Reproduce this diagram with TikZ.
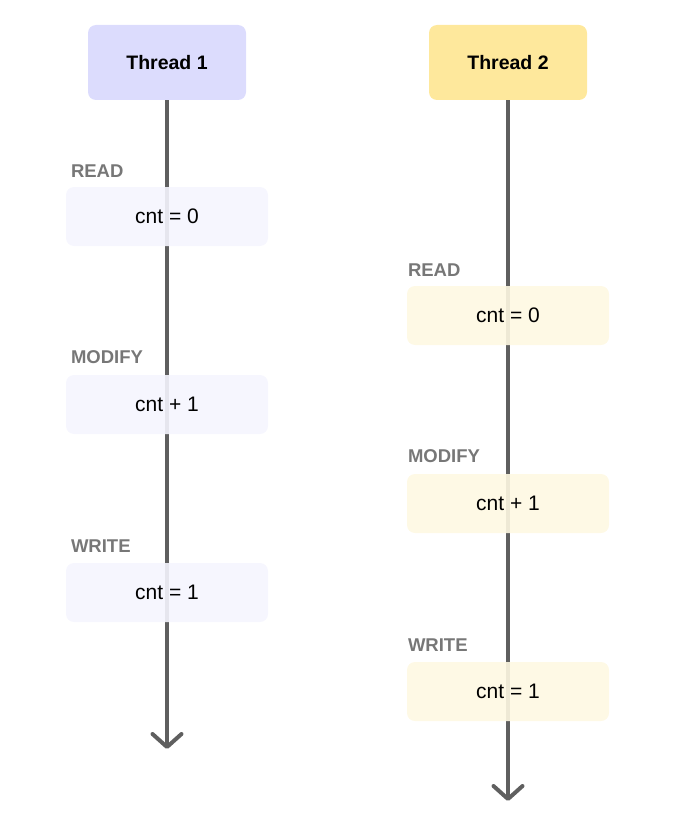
\documentclass[tikz,border=0pt]{standalone}
\usepackage{fontspec}
\setmainfont{Liberation Sans}
\usetikzlibrary{arrows.meta,positioning}
\definecolor{lineGray}{HTML}{5F5F5F}
\definecolor{headA}{HTML}{DCDCFD}
\definecolor{headB}{HTML}{FEE89C}
\definecolor{boxA}{HTML}{F5F5FE}
\definecolor{boxB}{HTML}{FEF8E2}
\definecolor{labelGray}{HTML}{777777}
\tikzset{
  header/.style={rounded corners=8pt, minimum width=158pt, minimum height=75pt, inner sep=0pt,
    font=\fontsize{19.5}{22}\selectfont\bfseries},
  stepbox/.style={rounded corners=8pt, minimum width=202pt, minimum height=59pt, inner sep=0pt,
    fill opacity=0.9, text opacity=1, font=\fontsize{21}{24}\selectfont},
  steplabel/.style={anchor=base west, text=labelGray, inner sep=0pt,
    font=\fontsize{18.5}{22}\selectfont\bfseries},
  timeline/.style={line width=4pt, draw=lineGray,
    -{Straight Barb[length=13pt,width=29pt,round]}}
}

\begin{document}
\begin{tikzpicture}[x=1pt,y=-1pt]
  \useasboundingbox (0,0) rectangle (676,824);
  %%%%% threads %%%%%
  \node[header, fill=headA] (t1) at (167,62.5) {Thread 1};
  \node[header, fill=headB] (t2) at (508,62.5) {Thread 2};
  \coordinate (e1) at (167,749);
  \coordinate (e2) at (508,801);
  \draw[timeline] (t1.south) -- (e1);
  \draw[timeline] (t2.south) -- (e2);

  %%%%% thread 1 %%%%%
  \node[stepbox, fill=boxA] (r1) at (167,216.5) {cnt = 0};
  \node[stepbox, fill=boxA] (m1) at (167,404.5) {cnt + 1};
  \node[stepbox, fill=boxA] (w1) at (167,592.5) {cnt = 1};
  \node[steplabel] (lr1) at ([shift={(5,-9)}]r1.north west) {READ};
  \node[steplabel] (lm1) at ([shift={(5,-11)}]m1.north west) {MODIFY};
  \node[steplabel] (lw1) at ([shift={(5,-10)}]w1.north west) {WRITE};

  %%%%% thread 2 %%%%%
  \node[stepbox, fill=boxB] (r2) at (508,315.5) {cnt = 0};
  \node[stepbox, fill=boxB] (m2) at (508,503.5) {cnt + 1};
  \node[stepbox, fill=boxB] (w2) at (508,691.5) {cnt = 1};
  \node[steplabel] (lr2) at ([shift={(1,-9)}]r2.north west) {READ};
  \node[steplabel] (lm2) at ([shift={(1,-11)}]m2.north west) {MODIFY};
  \node[steplabel] (lw2) at ([shift={(1,-10)}]w2.north west) {WRITE};
\end{tikzpicture}
\end{document}
